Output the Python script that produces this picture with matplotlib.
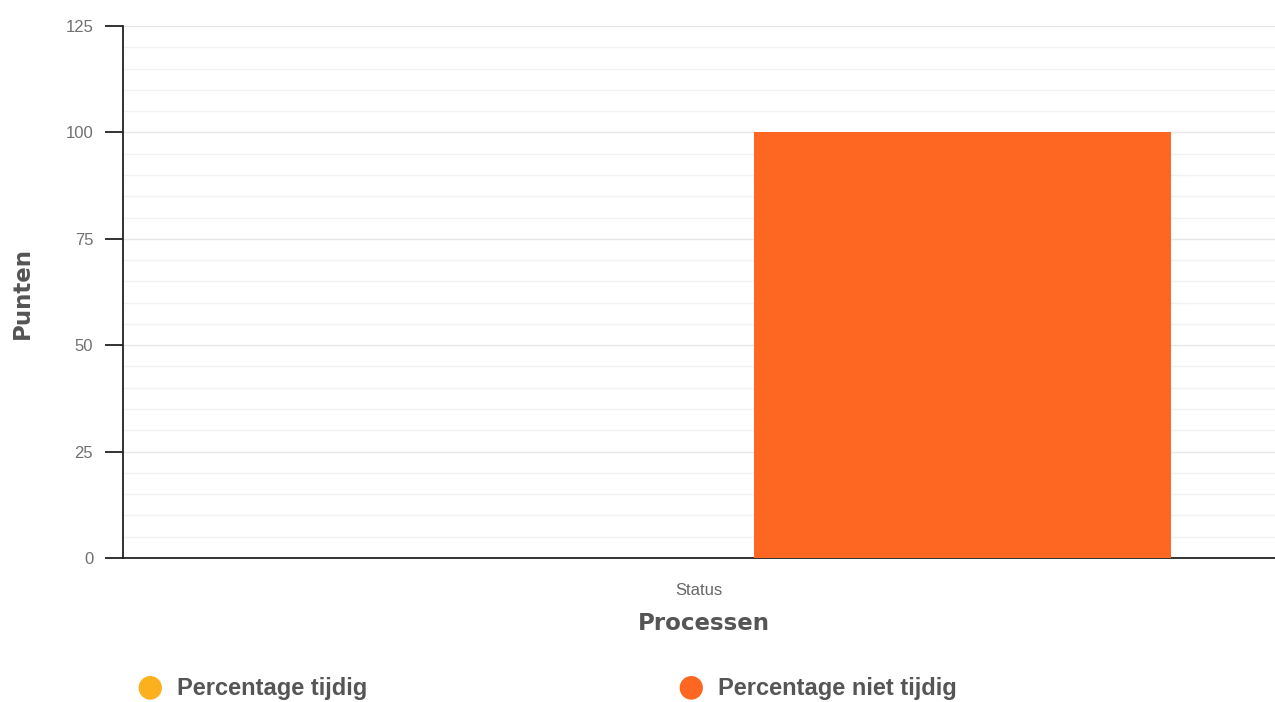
import numpy as np
import matplotlib
matplotlib.use('Agg')
import matplotlib.pyplot as plt
from matplotlib.ticker import MultipleLocator

categories = ['Status']
series_names = ['Percentage tijdig', 'Percentage niet tijdig']
series_values = [[0], [100]]
series_colors = ['#FBB01E', '#FD6721']

plt.rcParams['font.family'] = ['Liberation Sans', 'DejaVu Sans']

fig = plt.figure(figsize=(12.75, 7.02), dpi=100)
ax = fig.add_axes([123 / 1275, 144 / 702, 1 - 123 / 1275, (558 - 26) / 702])

x = np.arange(len(categories))
width = 0.362
offsets = [-0.229, 0.229]
for vals, off, col in zip(series_values, offsets, series_colors):
    ax.bar(x + off, vals, width, color=col, zorder=3)

ax.set_xlim(-0.5, len(categories) - 0.5)
ax.set_ylim(0, 125)
ax.yaxis.set_major_locator(MultipleLocator(25))
ax.yaxis.set_minor_locator(MultipleLocator(5))
ax.grid(axis='y', which='major', color='#e6e6e6', lw=1, zorder=0)
ax.grid(axis='y', which='minor', color='#f2f2f2', lw=1, zorder=0)

for s in ['top', 'right']:
    ax.spines[s].set_visible(False)
for s in ['left', 'bottom']:
    ax.spines[s].set_color('#222222')
    ax.spines[s].set_linewidth(1.3)

ax.tick_params(axis='y', which='major', length=13, width=1.3, color='#222222',
               labelsize=12, labelcolor='#707070', pad=8.5)
ax.tick_params(axis='y', which='minor', length=0)
ax.set_xticks(x)
ax.set_xticklabels(categories)
ax.tick_params(axis='x', length=0, labelsize=12, labelcolor='#666666', pad=18)

ax.set_ylabel('Punten', fontsize=16.5, fontweight='bold', color='#555555',
              family='DejaVu Sans', va='center')
ax.yaxis.set_label_coords((22 - 123) / 1152, (558 - 293) / 532)
ax.set_xlabel('Processen', fontsize=16.5, fontweight='bold', color='#555555',
              family='DejaVu Sans', va='center')
ax.xaxis.set_label_coords((704 - 123) / 1152, (558 - 623) / 532)

# legend
legend_x = [150, 691]
for lx, name, col in zip(legend_x, series_names, series_colors):
    fig.text(lx / 1275, 1 - 687 / 702, '\u25cf', color=col, fontsize=22,
             ha='center', va='center', family='DejaVu Sans')
    fig.text((lx + 27) / 1275, 1 - 688 / 702, name, color='#555555', fontsize=17,
             fontweight='bold', ha='left', va='center')

fig.savefig('out.png', dpi=100)
